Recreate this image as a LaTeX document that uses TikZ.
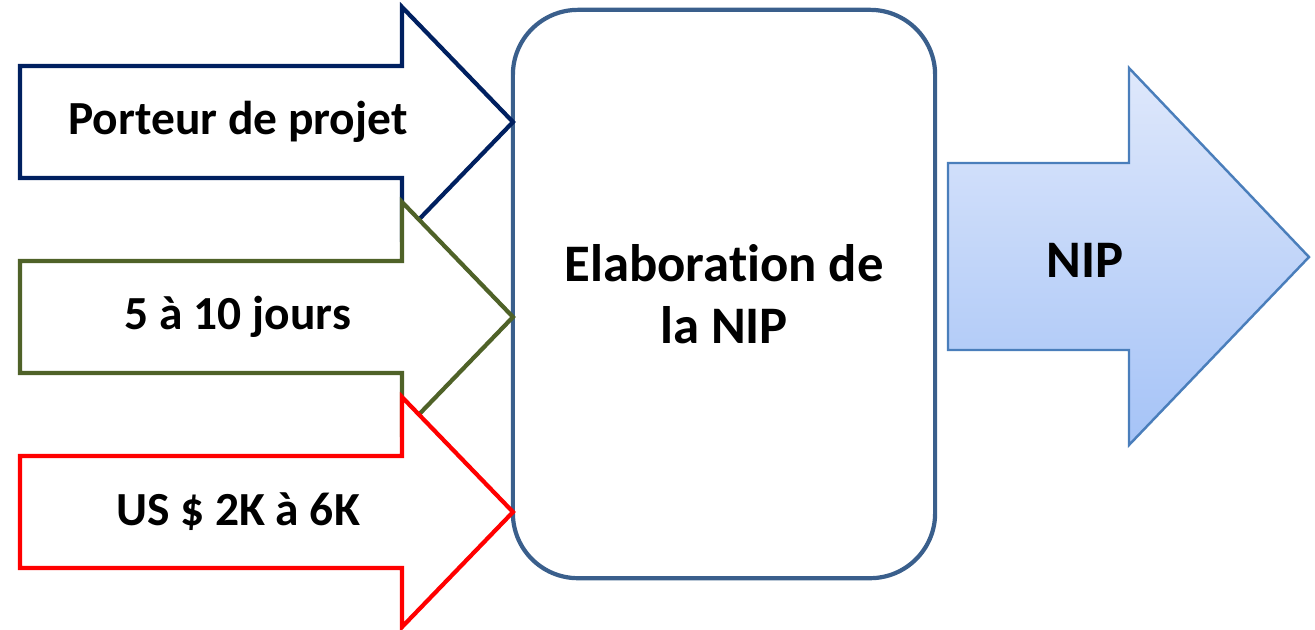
\documentclass[tikz,border=0pt]{standalone}
\usepackage{fontspec}
\setmainfont[Ligatures={NoCommon}]{Carlito}
\usetikzlibrary{positioning}
\definecolor{navyline}{HTML}{002060}
\definecolor{oliveline}{HTML}{4F6228}
\definecolor{redline}{HTML}{FF0000}
\definecolor{boxline}{HTML}{3A5F8C}
\definecolor{nipline}{HTML}{4A7EBB}
\definecolor{niptop}{HTML}{DFE8FB}
\definecolor{nipbottom}{HTML}{A5C3F7}

\tikzset{
    inarrow/.style={draw=#1, line width=1.2pt, fill=white, line join=miter},
    intext/.style={font=\fontsize{13.5}{16}\selectfont\bfseries},
    bigtext/.style={font=\fontsize{15}{17.5}\selectfont\bfseries, align=center}
}

\begin{document}
\begin{tikzpicture}[x=0.01cm, y=-0.01cm]
    \useasboundingbox (0,0) rectangle (1315,629);

    % Central box
    \node[draw=boxline, line width=1.2pt, rounded corners=0.65cm,
          minimum width=4.22cm, minimum height=5.68cm, bigtext] (elab) at (724,294)
          {Elaboration de\\la NIP};

    % Input arrows
    \foreach \yc/\col/\txt [count=\i] in {122/navyline/Porteur de projet,
                                           317/oliveline/5 à 10 jours,
                                           512/redline/US \$ 2K à 6K} {
        \draw[inarrow=\col] (20,{\yc-56}) -- (402,{\yc-56}) -- (402,{\yc-115})
            -- (513,\yc) -- (402,{\yc+115}) -- (402,{\yc+56}) -- (20,{\yc+56}) -- cycle;
        \node[intext] (in\i) at (238,\yc) {\txt};
    }

    % Output arrow
    \shade[top color=niptop, bottom color=nipbottom, draw=nipline, line width=0.7pt]
        (948,163) -- (1129,163) -- (1129,68) -- (1309,257) -- (1129,445)
        -- (1129,350) -- (948,350) -- cycle;
    \node[bigtext] (nip) at (1085,260) {NIP};
\end{tikzpicture}
\end{document}
